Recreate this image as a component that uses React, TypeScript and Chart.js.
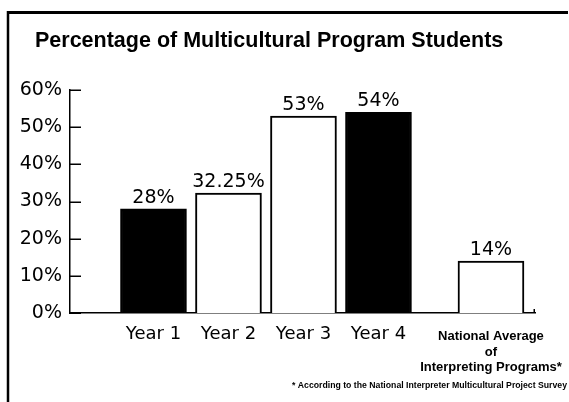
import React, { useEffect, useRef } from 'react';
import { Chart, registerables } from 'chart.js';

Chart.register(...registerables);

const TITLE = 'Percentage of Multicultural Program Students';
const FOOTNOTE = '* According to the National Interpreter Multicultural Project Survey';
const categories: (string | string[])[] = [
  'Year 1',
  'Year 2',
  'Year 3',
  'Year 4',
  ['National Average', 'of', 'Interpreting Programs*'],
];
const categoryPositions = [0, 1, 2, 3, 4.5];
const percentages = [28, 32.25, 53, 54, 14];
const yMin = 0;
const yMax = 60;
const yStep = 10;
const barFills = ['#000000', '#ffffff', '#ffffff', '#000000', '#ffffff'];

export default function App() {
  const ref = useRef<HTMLCanvasElement>(null);

  useEffect(() => {
    const canvas = ref.current!;
    const decor = {
      id: 'decor',
      beforeDraw(chart: any) {
        const ctx = chart.ctx;
        ctx.save();
        ctx.fillStyle = '#ffffff';
        ctx.fillRect(0, 0, chart.width, chart.height);
        ctx.restore();
      },
      afterDraw(chart: any) {
        const ctx = chart.ctx;
        const ca = chart.chartArea;
        const y = chart.scales.y;
        ctx.save();
        ctx.strokeStyle = '#000';
        ctx.fillStyle = '#000';
        // frame
        ctx.lineWidth = 3;
        ctx.beginPath();
        ctx.moveTo(7, 12.5);
        ctx.lineTo(568, 12.5);
        ctx.stroke();
        ctx.lineWidth = 2.5;
        ctx.beginPath();
        ctx.moveTo(8, 11);
        ctx.lineTo(8, 402);
        ctx.stroke();
        // title
        ctx.font = 'bold 21.5px "Liberation Sans", Arial, sans-serif';
        ctx.textAlign = 'left';
        ctx.textBaseline = 'alphabetic';
        ctx.fillText(TITLE, 35, 47);
        // inward y ticks
        ctx.lineWidth = 1.5;
        y.ticks.forEach((t: any) => {
          const py = Math.round(y.getPixelForValue(t.value)) + 0.25;
          ctx.beginPath();
          ctx.moveTo(ca.left, py);
          ctx.lineTo(ca.left + 11, py);
          ctx.stroke();
        });
        // small end tick of x axis
        ctx.beginPath();
        ctx.moveTo(ca.right - 0.75, ca.bottom);
        ctx.lineTo(ca.right - 0.75, ca.bottom - 4);
        ctx.stroke();
        // value labels
        const meta = chart.getDatasetMeta(0);
        ctx.font = '19px "DejaVu Sans", sans-serif';
        ctx.textAlign = 'center';
        meta.data.forEach((el: any, i: number) => {
          ctx.fillText(percentages[i] + '%', el.x, el.y - 6);
        });
        // footnote
        ctx.font = 'bold 9px "Liberation Sans", Arial, sans-serif';
        ctx.textAlign = 'left';
        ctx.fillText(FOOTNOTE, 292, 388, 275);
        ctx.restore();
      },
    };

    const chart = new Chart(canvas, {
      type: 'bar',
      data: {
        datasets: [
          {
            data: categoryPositions.map((x, i) => ({ x, y: percentages[i] })),
            backgroundColor: barFills,
            borderColor: '#000000',
            borderWidth: 2,
            barThickness: 66,
          },
        ],
      },
      options: {
        responsive: false,
        animation: false,
        devicePixelRatio: 1,
        layout: { padding: { top: 90, right: 34, bottom: 0, left: 0 } },
        plugins: {
          legend: { display: false },
          tooltip: { enabled: false },
          title: { display: false },
        },
        scales: {
          x: {
            type: 'linear',
            offset: false,
            min: -1.113,
            max: 5.087,
            grid: { display: false, drawTicks: false, offset: false },
            border: { display: true, color: '#000', width: 1.5 },
            afterBuildTicks: (scale: any) => {
              scale.ticks = categoryPositions.map((v) => ({ value: v }));
            },
            afterFit: (scale: any) => {
              scale.height = 89;
              scale.paddingLeft = 0;
              scale.paddingRight = 0;
            },
            ticks: {
              autoSkip: false,
              maxRotation: 0,
              minRotation: 0,
              padding: 16,
              color: '#000',
              callback: (_v: any, index: number) => categories[index],
              font: (ctx: any) =>
                ctx.index === 4
                  ? { family: '"Liberation Sans", Arial, sans-serif', size: 13, weight: 'bold', lineHeight: '15.5px' }
                  : { family: '"DejaVu Sans", sans-serif', size: 18, weight: 'normal', lineHeight: '10.5px' },
            },
          },
          y: {
            min: yMin,
            max: yMax,
            grid: { display: false, drawTicks: false },
            border: { display: true, color: '#000', width: 1.5 },
            afterFit: (scale: any) => {
              scale.width = 70;
            },
            ticks: {
              stepSize: yStep,
              padding: 8,
              color: '#000',
              font: { family: '"DejaVu Sans", sans-serif', size: 19 },
              callback: (v: any) => v + '%',
            },
          },
        },
      },
      plugins: [decor],
    } as any);

    return () => chart.destroy();
  }, []);

  return (
    <canvas
      ref={ref}
      width={569}
      height={402}
      style={{ position: 'fixed', left: 0, top: 0, width: 569, height: 402 }}
    />
  );
}
